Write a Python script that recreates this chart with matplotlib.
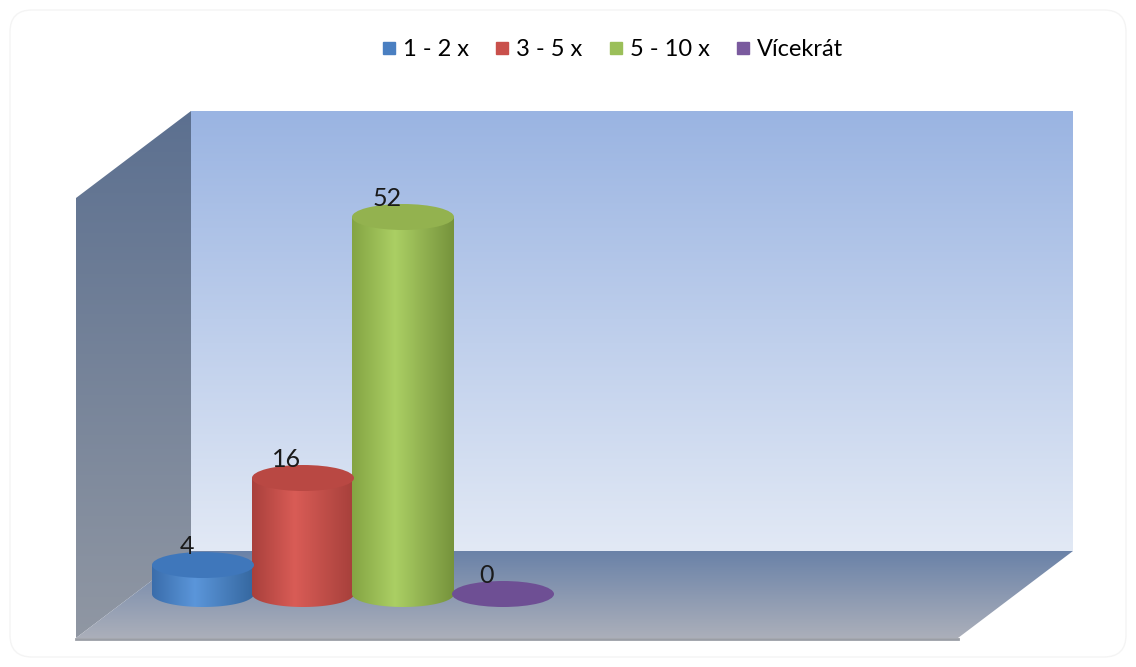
import numpy as np
import matplotlib.pyplot as plt
from matplotlib.path import Path
from matplotlib.patches import PathPatch, Ellipse, Polygon, FancyBboxPatch
from matplotlib.colors import LinearSegmentedColormap
from matplotlib.lines import Line2D

plt.rcParams['font.family'] = ['Lato', 'DejaVu Sans']

# data
categories = ['1 - 2 x', '3 - 5 x', '5 - 10 x', 'Vícekrát']
values = [4, 16, 52, 0]

# styling
side_colors = [('#3a6dab', '#5b96da', '#35679f'),
               ('#a9403c', '#d95c56', '#a6403b'),
               ('#84a443', '#abcf64', '#76933c'),
               ('#5e4280', '#6e4f94', '#5a3f7a')]
top_colors = ['#3f77bb', '#b94843', '#93b24f', '#6a4a8c']
legend_colors = ['#4a7fc1', '#c9504b', '#9bbf59', '#7a5a9e']

W, H = 1136, 667
fig = plt.figure(figsize=(W / 100, H / 100), dpi=100)

# background axes in pixel units for the 3D walls
bg = fig.add_axes([0, 0, 1, 1])
bg.set_xlim(0, W)
bg.set_ylim(H, 0)
bg.axis('off')

frame = FancyBboxPatch((10, 10), W - 20, H - 20, boxstyle='round,pad=0,rounding_size=22',
                       facecolor='white', edgecolor='#f4f4f4', lw=1.0)
bg.add_patch(frame)


def grad_poly(ax, pts, c_top, c_bot, y0, y1):
    cmap = LinearSegmentedColormap.from_list('g', [c_top, c_bot])
    grad = np.linspace(0, 1, 256).reshape(-1, 1)
    xs = [p[0] for p in pts]
    im = ax.imshow(grad, cmap=cmap, aspect='auto',
                   extent=[min(xs), max(xs), y1, y0], zorder=1)
    poly = Polygon(pts, closed=True, facecolor='none', edgecolor='none')
    ax.add_patch(poly)
    im.set_clip_path(poly)


bx0, bx1, by0, by1 = 191, 1073, 111, 551
ddx, ddy = -115, 87
# back wall
grad_poly(bg, [(bx0, by0), (bx1, by0), (bx1, by1), (bx0, by1)], '#9ab4e2', '#e2e9f5', by0, by1)
# left wall
grad_poly(bg, [(bx0, by0), (bx0 + ddx, by0 + ddy), (bx0 + ddx, by1 + ddy), (bx0, by1)],
          '#5c7090', '#9097a3', by0, by1 + ddy)
# floor
grad_poly(bg, [(bx0, by1), (bx1, by1), (bx1 + ddx, by1 + ddy), (bx0 + ddx, by1 + ddy)],
          '#6a82a8', '#abafba', by1, by1 + ddy)
bg.plot([bx0 + ddx, bx1 + ddx], [by1 + ddy + 1, by1 + ddy + 1], color='#9a9ea6', lw=2, zorder=2)
bg.set_xlim(0, W)
bg.set_ylim(H, 0)

# data axes: x = category, y = value
ax = fig.add_axes([0, 0, 1, 1])
ax.patch.set_alpha(0)
ax.axis('off')
px_per_unit = 7.25
x_px0, y_px0 = 203, 594
xlim = (-x_px0 / 100, (W - x_px0) / 100)
ylim = (-(H - y_px0) / px_per_unit, y_px0 / px_per_unit)

bar_w = 1.02
ell_h = 26 / px_per_unit

for i, (v, sc, tc) in enumerate(zip(values, side_colors, top_colors)):
    x = i
    if v > 0:
        t = np.linspace(np.pi, 2 * np.pi, 60)
        verts = [(x - bar_w / 2, v)]
        verts += list(zip(x + bar_w / 2 * np.cos(t), ell_h / 2 * np.sin(t)))
        verts += [(x + bar_w / 2, v), (x - bar_w / 2, v)]
        path = Path(verts, closed=True)
        body = PathPatch(path, facecolor='none', edgecolor='none')
        ax.add_patch(body)
        cmap = LinearSegmentedColormap.from_list('c%d' % i, [(0, sc[0]), (0.42, sc[1]), (1, sc[2])])
        im = ax.imshow(np.linspace(0, 1, 256).reshape(1, -1), cmap=cmap, aspect='auto',
                       extent=[x - bar_w / 2, x + bar_w / 2, -ell_h, v], zorder=3)
        im.set_clip_path(body)
    ax.add_patch(Ellipse((x, v), bar_w, ell_h, facecolor=tc if v > 0 else sc[1],
                         edgecolor='none', zorder=4))
    ax.text(x - 0.16, v + 2.5, str(v), ha='center', va='center', fontsize=18,
            color='#1a1a1a', zorder=5)

ax.set_xlim(*xlim)
ax.set_ylim(*ylim)

handles = [Line2D([], [], marker='s', ls='none', markersize=9, color=c) for c in legend_colors]
ax.legend(handles, categories, loc='center', bbox_to_anchor=(610 / W, 1 - 50 / H),
          ncol=4, frameon=False, fontsize=17, handletextpad=0.1, columnspacing=0.9,
          handlelength=1.0)

fig.savefig('out.png', dpi=100)
